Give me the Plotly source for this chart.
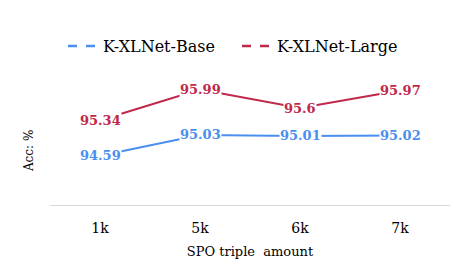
import plotly.graph_objects as go

categories = ["1k", "5k", "6k", "7k"]
base_vals = [94.59, 95.03, 95.01, 95.02]
large_vals = [95.34, 95.99, 95.6, 95.97]
series_names = ["K-XLNet-Base", "K-XLNet-Large"]
colors = ["#4A8FF0", "#C0284A"]

SERIF = "DejaVu Serif"

fig = go.Figure()
for name, vals, c in zip(series_names, [base_vals, large_vals], colors):
    fig.add_trace(go.Scatter(x=categories, y=vals, mode="lines",
                             line=dict(color=c, width=2), showlegend=False))
    fig.add_trace(go.Scatter(x=[None], y=[None], mode="lines", name=name,
                             line=dict(color=c, width=2.5, dash="dash")))

annotations = []
for vals, c in zip([base_vals, large_vals], colors):
    for cat, v in zip(categories, vals):
        annotations.append(dict(x=cat, y=v, xref="x", yref="y", text="<b>%s</b>" % v,
                                showarrow=False, bgcolor="white", borderpad=0,
                                font=dict(family=SERIF, size=13, color=c)))
annotations.append(dict(x=0, xref="paper", y=0.38, yref="paper", xanchor="right",
                        yanchor="middle", xshift=-12, textangle=-90, showarrow=False,
                        text="Acc: %", font=dict(family=SERIF, size=12, color="black")))

fig.update_layout(
    width=464, height=272,
    margin=dict(l=42, r=22, t=51, b=75),
    plot_bgcolor="white", paper_bgcolor="white",
    font=dict(family=SERIF, size=14, color="black"),
    annotations=annotations,
    legend=dict(orientation="h", x=0.0325, xanchor="left", yref="container", y=0.86,
                yanchor="middle",
                font=dict(family=SERIF, size=16, color="black"), itemwidth=30,
                entrywidth=129, entrywidthmode="pixels", tracegroupgap=0),
    xaxis=dict(type="category", range=[-0.5, 3.5], showline=True, linecolor="#D9D9D9",
               linewidth=1, ticks="", showgrid=False, automargin=False,
               ticklabelstandoff=10,
               tickfont=dict(family=SERIF, size=14, color="black"),
               title=dict(text="SPO triple  amount",
                          font=dict(family=SERIF, size=13, color="black"), standoff=12)),
    yaxis=dict(range=[93.55, 96.55], showgrid=False, showticklabels=False,
               zeroline=False, showline=False, automargin=False),
)

fig.write_html("out.html")
